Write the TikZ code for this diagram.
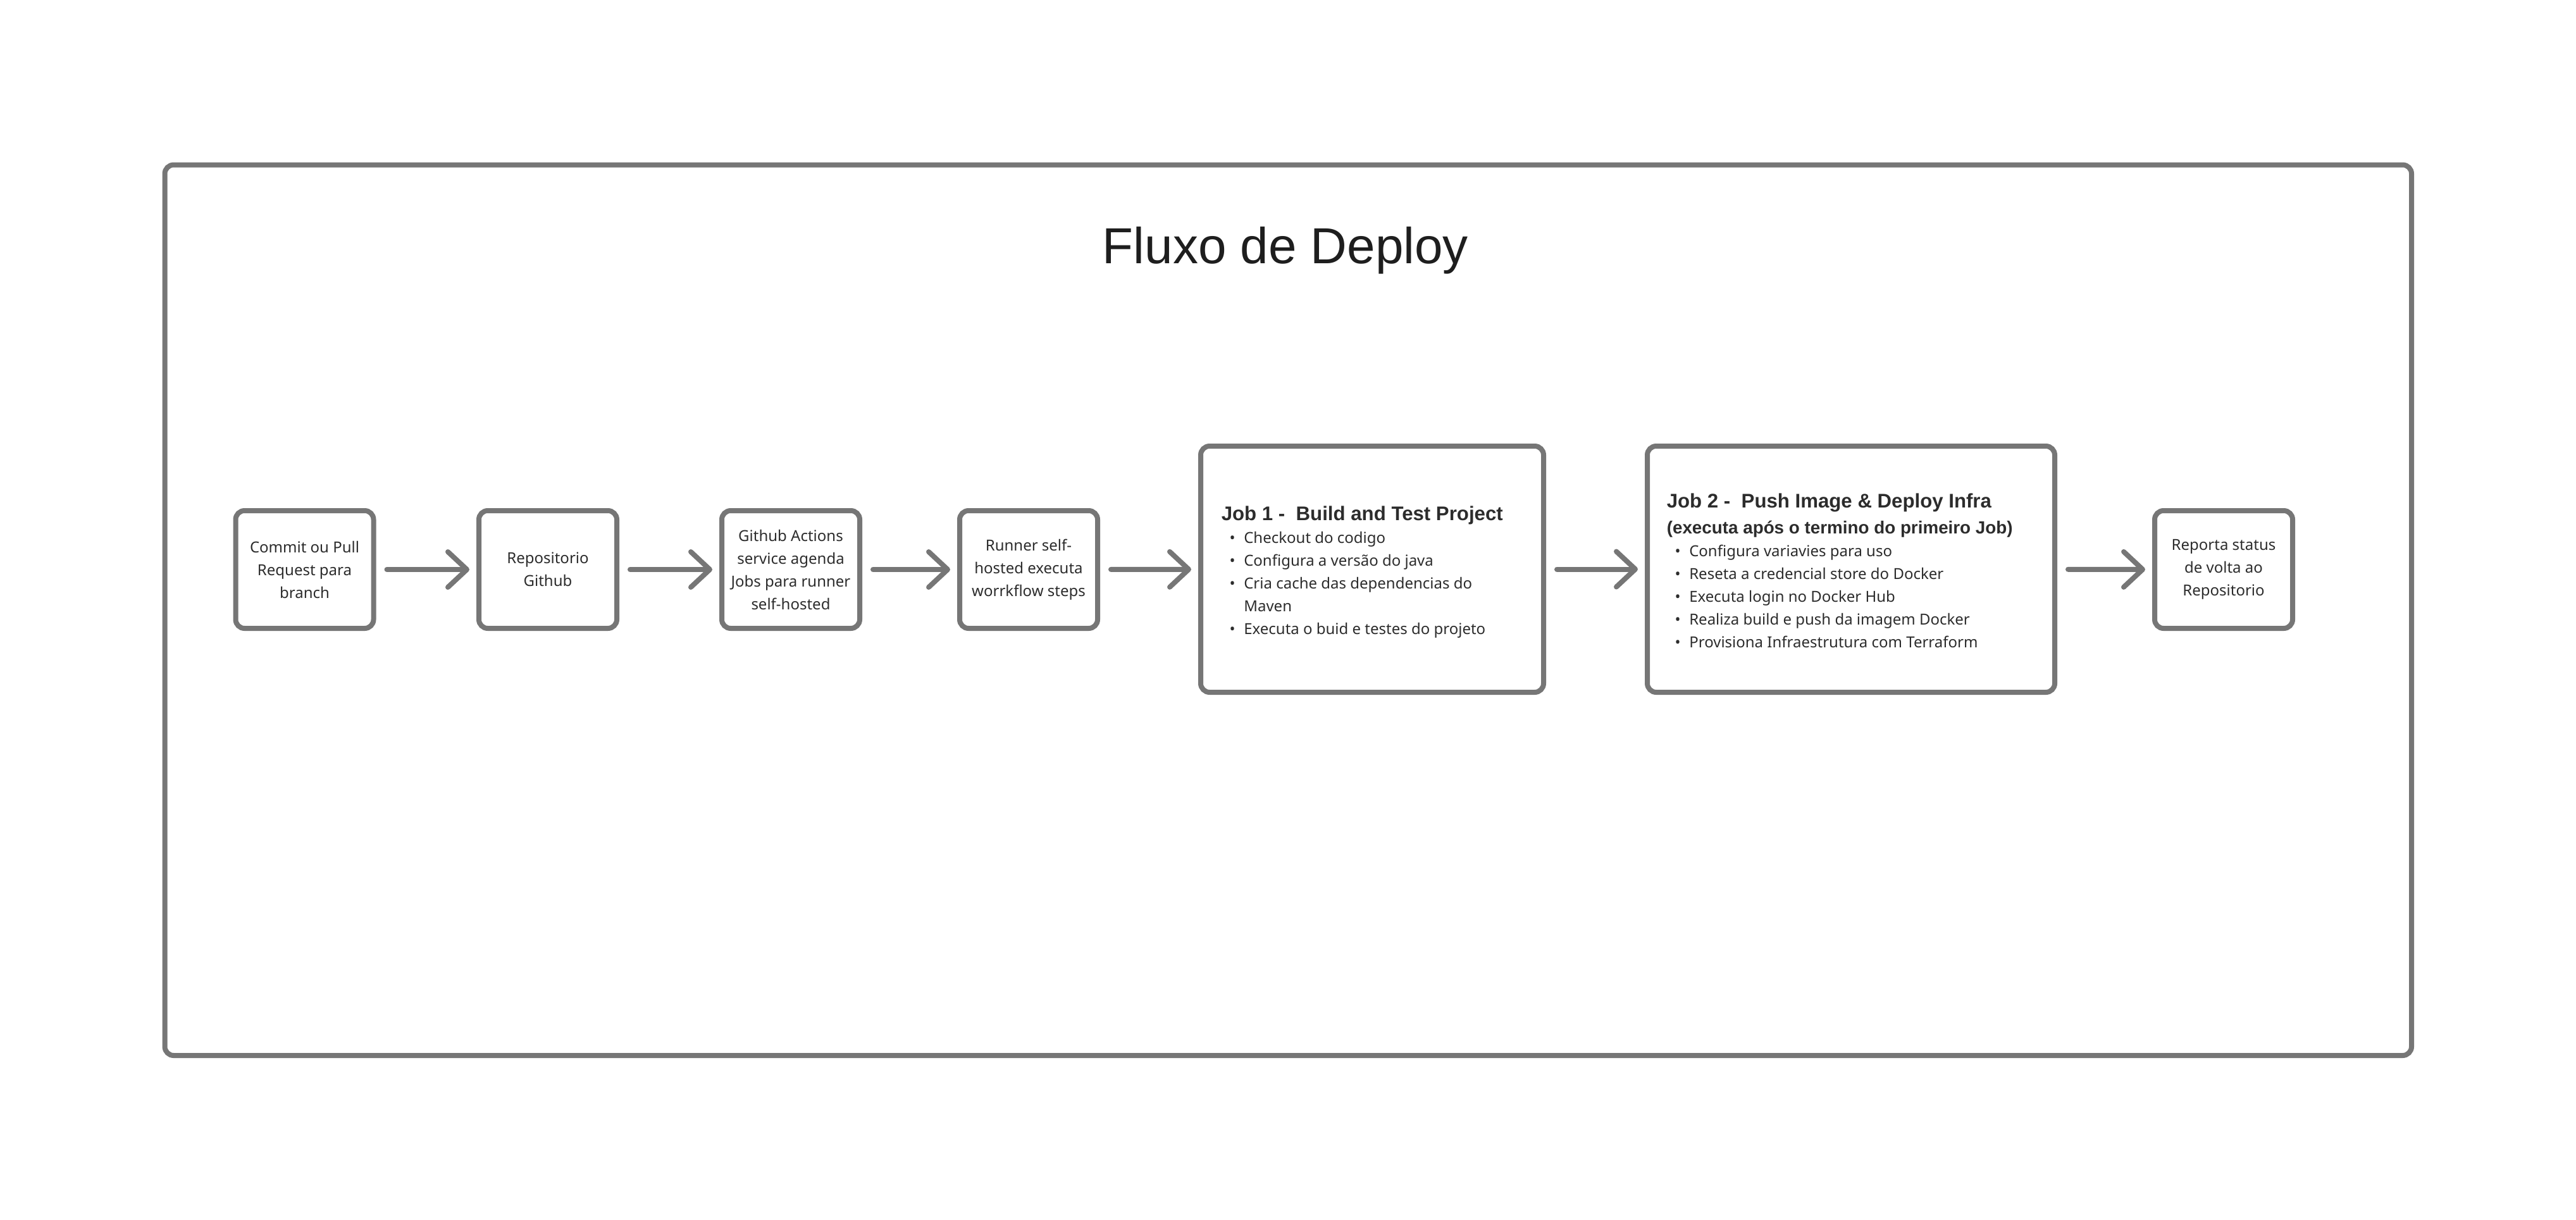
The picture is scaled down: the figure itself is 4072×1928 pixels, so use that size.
\documentclass[tikz,border=0pt]{standalone}
\usepackage{fontspec}
\setmainfont{Noto Sans}
\newfontfamily\titlefont{Liberation Sans}
\newcommand\jobbold{\titlefont\bfseries}
\usetikzlibrary{arrows.meta}
\definecolor{strk}{RGB}{118,118,118}
\definecolor{ink}{RGB}{44,44,44}
\definecolor{titleink}{RGB}{30,30,30}
\newcommand\bul[1]{\makebox[8.875pt][l]{\hspace{3.2pt}\textbullet}#1}
\newcommand\cont[1]{\makebox[8.875pt][l]{}#1}
\begin{document}
\begin{tikzpicture}[x=0.25pt,y=-0.25pt,
  framebox/.style={draw=strk, line width=2pt, rounded corners=3.5pt, outer sep=0pt, inner sep=0pt},
  smallbox/.style={draw=strk, line width=2pt, rounded corners=3.5pt, outer sep=0pt, inner sep=0pt,
    minimum width=54.5pt, minimum height=46.5pt, align=center, text=ink,
    font=\fontsize{6pt}{9pt}\selectfont},
  jobbox/.style={draw=strk, line width=2pt, rounded corners=3.5pt, outer sep=0pt, inner sep=0pt,
    minimum height=97.25pt},
  jobtext/.style={anchor=base west, align=left, inner sep=0pt, text=ink,
    font=\fontsize{6pt}{9pt}\selectfont},
  conn/.style={draw=strk, line width=2pt, line cap=round, shorten <=5.25pt, shorten >=3.75pt,
    -{Straight Barb[length=7.5pt,width=14pt,round]}}
]
\useasboundingbox (0,0) rectangle (4072,1928);
\node[framebox, minimum width=887.875pt, minimum height=351.875pt] (frame) at (2036.25,964.25) {};
\node[anchor=base, inner sep=0pt, text=titleink, font=\titlefont\fontsize{20pt}{24pt}\selectfont] (title) at (2032,416.5) {Fluxo de Deploy};

\node[smallbox] (b1) at (481.5,900) {Commit ou Pull\\Request para\\branch};
\node[smallbox] (b2) at (866,900) {Repositorio\\Github};
\node[smallbox] (b3) at (1250,900) {Github Actions\\service agenda\\Jobs para runner\\self-hosted};
\node[smallbox] (b4) at (1626,900) {Runner self-\\hosted executa\\worrkflow steps};
\node[jobbox, minimum width=135.5pt] (j1) at (2169,899.5) {};
\node[jobbox, minimum width=161pt] (j2) at (2926,899.5) {};
\node[smallbox] (b7) at (3515,900) {Reporta status\\de volta ao\\Repositorio};

\node[jobtext] (j1t) at (1930,1002.7) {{\jobbold\fontsize{7.8pt}{9pt}\selectfont Job 1 -\ \ Build and Test Project}\\
\bul{Checkout do codigo}\\
\bul{Configura a versão do java}\\
\bul{Cria cache das dependencias do}\\
\cont{Maven}\\
\bul{Executa o buid e testes do projeto}};

\node[jobtext] (j2t) at (2634,1023) {{\jobbold\fontsize{7.8pt}{9pt}\selectfont Job 2 -\ \ Push Image \& Deploy Infra}\\[1.25pt]
{\jobbold\fontsize{6.95pt}{9pt}\selectfont (executa após o termino do primeiro Job)}\\
\bul{Configura variavies para uso}\\
\bul{Reseta a credencial store do Docker}\\
\bul{Executa login no Docker Hub}\\
\bul{Realiza build e push da imagem Docker}\\
\bul{Provisiona Infraestrutura com Terraform}};

\draw[conn] (b1) -- (b2);
\draw[conn] (b2) -- (b3);
\draw[conn] (b3) -- (b4);
\draw[conn] (b4) -- (j1);
\draw[conn] (j1) -- (j2);
\draw[conn] (j2) -- (b7);
\end{tikzpicture}
\end{document}
